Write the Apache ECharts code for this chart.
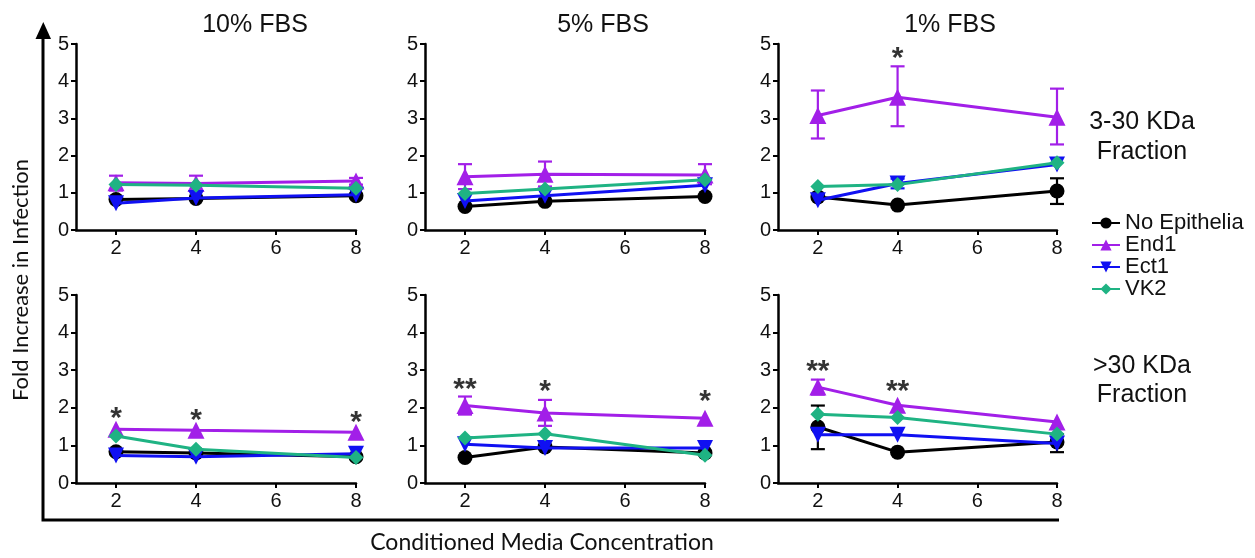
<!DOCTYPE html>
<html>
<head>
<meta charset="utf-8">
<script src="https://cdn.jsdelivr.net/npm/echarts@6/dist/echarts.min.js"></script>
<style>html,body{margin:0;padding:0;background:#fff;}#c{width:1255px;height:558px;}</style>
</head>
<body>
<div id="c"></div>
<script>
// ---------------- data ----------------
const xValues = [2, 4, 8];
const xTickLabels = [2, 4, 6, 8];
const seriesNames = ['No Epithelia', 'End1', 'Ect1', 'VK2'];
const panelTitles = ['10% FBS', '5% FBS', '1% FBS'];
const rowLabels = ['3-30 KDa\nFraction', '>30 KDa\nFraction'];
const yAxisName = 'Fold Increase in Infection';
const xAxisName = 'Conditioned Media Concentration';

// panel order: top row (3-30 KDa) 10%,5%,1% then bottom row (>30 KDa) 10%,5%,1%
const noEpithelia = [
  [0.82, 0.85, 0.92],
  [0.63, 0.77, 0.90],
  [0.89, 0.67, 1.05],
  [0.83, 0.80, 0.70],
  [0.68, 0.96, 0.80],
  [1.49, 0.82, 1.09]
];
const end1 = [
  [1.27, 1.25, 1.32],
  [1.43, 1.50, 1.48],
  [3.08, 3.57, 3.03],
  [1.43, 1.40, 1.35],
  [2.06, 1.86, 1.72],
  [2.55, 2.07, 1.62]
];
const ect1 = [
  [0.72, 0.86, 0.95],
  [0.78, 0.92, 1.20],
  [0.80, 1.25, 1.76],
  [0.73, 0.70, 0.78],
  [1.03, 0.93, 0.93],
  [1.28, 1.28, 1.05]
];
const vk2 = [
  [1.22, 1.20, 1.12],
  [0.98, 1.10, 1.35],
  [1.17, 1.22, 1.81],
  [1.25, 0.90, 0.68],
  [1.20, 1.31, 0.74],
  [1.83, 1.74, 1.30]
];
// error bars: [x, low, high, seriesIndex]
const errorBars = [
  [[2, 1.06, 1.46, 1], [4, 1.05, 1.46, 1], [8, 1.22, 1.40, 1]],
  [[2, 1.10, 1.77, 1], [4, 1.17, 1.84, 1], [8, 1.23, 1.77, 1]],
  [[2, 2.46, 3.75, 1], [4, 2.79, 4.40, 1], [8, 2.30, 3.80, 1], [8, 0.70, 1.39, 0], [4, 1.12, 1.38, 2]],
  [],
  [[2, 1.82, 2.30, 1], [4, 1.52, 2.21, 1]],
  [[2, 2.35, 2.75, 1], [2, 0.90, 2.06, 0], [8, 0.82, 1.30, 0]]
];
// significance marks: [x, y, text]
const stars = [
  [],
  [],
  [[4, 4.83, '*']],
  [[2, 1.92, '*'], [4, 1.88, '*'], [8, 1.81, '*']],
  [[2, 2.69, '**'], [4, 2.65, '*'], [8, 2.38, '*']],
  [[2, 3.18, '**'], [4, 2.64, '**']]
];

// ---------------- layout / style ----------------
const allValues = [noEpithelia, end1, ect1, vk2];
const colors = ['#000000', '#a21fe8', '#1010f2', '#1fb383'];
const symbols = ['circle', 'triangle', 'path://M0,0L20,0L10,17Z', 'diamond'];
const symbolSizes = [15, 17, 16, 15];
const colLeft = [76, 425, 778];
const colWidth = [280, 280, 279];
const rowTop = [44, 295];
const rowHeight = [186, 188];
const FONT = '"Liberation Sans", Arial, sans-serif';

const grids = [], xAxes = [], yAxes = [], series = [];
for (let r = 0; r < 2; r++) {
  for (let c = 0; c < 3; c++) {
    const i = r * 3 + c;
    grids.push({ left: colLeft[c], width: colWidth[c], top: rowTop[r], height: rowHeight[r] });
    xAxes.push({
      gridIndex: i, type: 'value', min: 1, max: 8,
      axisLine: { show: true, lineStyle: { color: '#000', width: 2.5 } },
      axisTick: { show: true, length: 5, lineStyle: { color: '#000', width: 2 }, customValues: xTickLabels },
      axisLabel: { customValues: xTickLabels, fontSize: 20, color: '#111', margin: 8, fontFamily: FONT },
      splitLine: { show: false }
    });
    yAxes.push({
      gridIndex: i, type: 'value', min: 0, max: 5, interval: 1,
      axisLine: { show: true, lineStyle: { color: '#000', width: 2.5 } },
      axisTick: { show: true, length: 5, lineStyle: { color: '#000', width: 2 } },
      axisLabel: { fontSize: 20, color: '#111', margin: 7, fontFamily: FONT },
      splitLine: { show: false }
    });
    series.push({
      type: 'custom', name: 'errorbars', xAxisIndex: i, yAxisIndex: i, z: 2, silent: true,
      data: errorBars[i],
      encode: { x: 0, y: [1, 2] },
      renderItem: function (params, api) {
        const x = api.value(0), lo = api.value(1), hi = api.value(2);
        const col = colors[api.value(3)];
        const pHi = api.coord([x, hi]), pLo = api.coord([x, lo]);
        const w = 7;
        const st = { stroke: col, lineWidth: 2.2 };
        return {
          type: 'group', children: [
            { type: 'line', shape: { x1: pHi[0], y1: pHi[1], x2: pLo[0], y2: pLo[1] }, style: st },
            { type: 'line', shape: { x1: pHi[0] - w, y1: pHi[1], x2: pHi[0] + w, y2: pHi[1] }, style: st },
            { type: 'line', shape: { x1: pLo[0] - w, y1: pLo[1], x2: pLo[0] + w, y2: pLo[1] }, style: st }
          ]
        };
      }
    });
    for (let s = 0; s < 4; s++) {
      series.push({
        type: 'line', name: seriesNames[s], xAxisIndex: i, yAxisIndex: i, z: 3 + s,
        data: xValues.map((x, k) => [x, allValues[s][i][k]]),
        symbol: symbols[s], symbolSize: symbolSizes[s], showAllSymbol: true,
        lineStyle: { color: colors[s], width: 3 },
        itemStyle: { color: colors[s], borderWidth: 0 },
        emphasis: { disabled: true }, animation: false
      });
    }
    series.push({
      type: 'scatter', name: 'sig', xAxisIndex: i, yAxisIndex: i, z: 10, silent: true,
      data: stars[i].map(d => ({ value: [d[0], d[1]], name: d[2] })),
      symbolSize: 1, itemStyle: { color: 'rgba(0,0,0,0)' },
      label: { show: true, position: 'inside', formatter: '{b}', fontSize: 30, fontWeight: 'bold', color: '#000', fontFamily: FONT, offset: [0, 8] }
    });
  }
}

const titles = panelTitles.map((t, c) => ({
  text: t, left: [250, 598, 945][c], top: 8, textAlign: 'center',
  textStyle: { fontSize: 25, fontWeight: 'normal', color: '#111', fontFamily: FONT }
}));

const graphics = [
  { type: 'polyline', shape: { points: [[43, 30], [43, 520], [1059, 520]] }, style: { stroke: '#000', lineWidth: 3, fill: null } },
  { type: 'polygon', shape: { points: [[43.3, 22], [35.5, 39], [51, 39]] }, style: { fill: '#000' } },
  { type: 'text', x: 21, y: 280, rotation: Math.PI / 2,
    style: { text: yAxisName, fontSize: 22, fontFamily: 'Lato, sans-serif', fill: '#111', align: 'center', verticalAlign: 'middle' } },
  { type: 'text', x: 542, y: 543,
    style: { text: xAxisName, fontSize: 23, fontFamily: 'Lato, sans-serif', fill: '#111', align: 'center', verticalAlign: 'middle' } },
  { type: 'text', x: 1142, y: 137,
    style: { text: rowLabels[0], fontSize: 25, lineHeight: 30, fontFamily: FONT, fill: '#111', align: 'center', verticalAlign: 'middle' } },
  { type: 'text', x: 1142, y: 381,
    style: { text: rowLabels[1], fontSize: 25, lineHeight: 29, fontFamily: FONT, fill: '#111', align: 'center', verticalAlign: 'middle' } }
];

const chart = echarts.init(document.getElementById('c'), null, { renderer: 'canvas' });
chart.setOption({
  backgroundColor: '#fff',
  animation: false,
  title: titles,
  legend: {
    data: seriesNames, orient: 'vertical', left: 1086, top: 207,
    itemWidth: 28, itemHeight: 14, itemGap: 0,
    textStyle: { fontSize: 22, lineHeight: 20.5, color: '#111', fontFamily: FONT }
  },
  grid: grids, xAxis: xAxes, yAxis: yAxes, series: series, graphic: graphics
});
</script>
</body>
</html>
